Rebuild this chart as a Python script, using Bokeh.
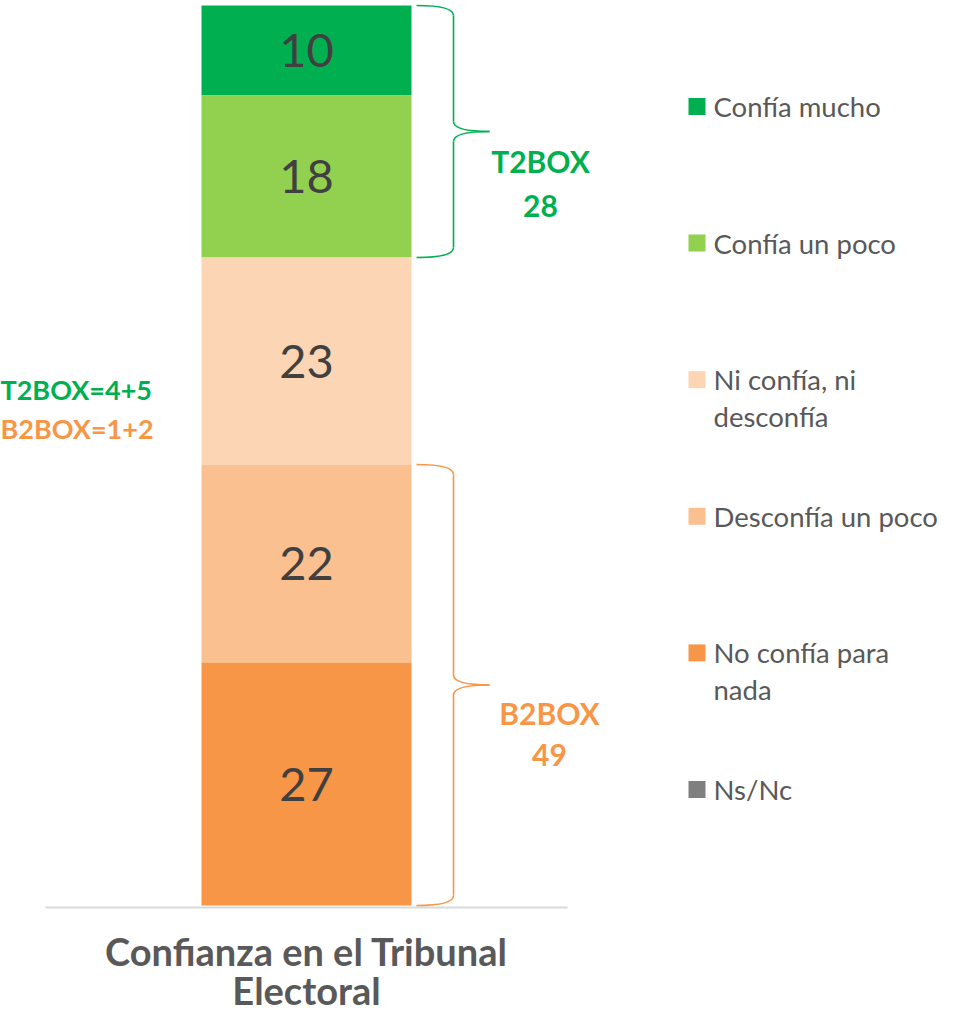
from bokeh.plotting import figure
from bokeh.models import Range1d, ColumnDataSource
from bokeh.embed import file_html
from bokeh.resources import INLINE
from bokeh.core.properties import value

# ---------------- data ----------------
categories = ["Confía mucho", "Confía un poco", "Ni confía, ni\ndesconfía",
              "Desconfía un poco", "No confía para\nnada", "Ns/Nc"]
values = [10, 18, 23, 22, 27, 0]
colors = ["#00B050", "#92D050", "#FCD5B5", "#FAC090", "#F79646", "#7F7F7F"]
bar_title = ["Confianza en el Tribunal", "Electoral"]
group_names = ["T2BOX", "B2BOX"]
group_members = [[0, 1], [3, 4]]
group_colors = ["#00B050", "#F79646"]
note_lines = ["T2BOX=4+5", "B2BOX=1+2"]

# ---------------- layout ----------------
FONT = "Lato"
W, H = 937, 1017
PX = 9.0           # pixels per percentage point
BASE = 905         # pixel row of the bar's base


def Y(py):
    return (BASE - py) / PX


p = figure(width=W, height=H, x_range=Range1d(0, W),
           y_range=Range1d(Y(H), Y(0)), min_border=0,
           toolbar_location=None, output_backend="svg")
p.axis.visible = False
p.grid.visible = False
p.outline_line_color = None
p.background_fill_color = "white"

# stacked bar (bottom-up is reverse of the legend order)
bottoms, tops = [0] * len(values), [0] * len(values)
acc = 0
for i in reversed(range(len(values))):
    bottoms[i] = acc
    acc += values[i]
    tops[i] = acc

src = ColumnDataSource(dict(x=[306] * len(values), bottom=bottoms, top=tops,
                            color=colors, mid=[(b + t) / 2 for b, t in zip(bottoms, tops)]))
p.vbar(x="x", width=210, bottom="bottom", top="top", fill_color="color",
       line_color=None, source=src)

lab_idx = [i for i, v in enumerate(values) if v > 0]
p.text(x=[306] * len(lab_idx), y=[src.data["mid"][i] for i in lab_idx],
       text=[str(values[i]) for i in lab_idx], text_align="center",
       text_baseline="middle", text_font=value(FONT), text_font_size="47px",
       text_color="#404040")

# base line
p.segment(x0=[45], y0=[-2 / PX], x1=[567], y1=[-2 / PX], line_color="#D9D9D9",
          line_width=2)

# category title
p.text(x=[306, 306], y=[Y(950), Y(989)], text=bar_title, text_align="center",
       text_baseline="middle", text_font=value(FONT), text_font_style="bold",
       text_font_size="38px", text_color="#595959")

# legend
for i, (cat, col) in enumerate(zip(categories, colors)):
    py = 106 + i * 136.6
    p.scatter(x=[696.5], y=[Y(py)], marker="square", size=17, fill_color=col,
              line_color=None)
    for k, line in enumerate(cat.split("\n")):
        p.text(x=[713], y=[Y(py + k * 37)], text=[line], text_align="left",
               text_baseline="middle", text_font=value(FONT),
               text_font_size="27.5px", text_color="#595959")

# braces
XA, XV, XT, R = 416, 453, 489, 10 / PX
label_dx = [51, 60]
label_dy = [(29, 74), (28, 70)]
for g, (name, members, col) in enumerate(zip(group_names, group_members, group_colors)):
    ytop = max(tops[i] for i in members)
    ybot = min(bottoms[i] for i in members)
    ymid = (ytop + ybot) / 2
    total = sum(values[i] for i in members)
    p.quadratic(x0=[XA, XV, XT, XV], y0=[ytop, ymid + R, ymid, ybot + R],
                x1=[XV, XT, XV, XA], y1=[ytop - R, ymid, ymid - R, ybot],
                cx=[XV, XV, XV, XV], cy=[ytop, ymid, ymid, ybot],
                line_color=col, line_width=1.6)
    p.segment(x0=[XV, XV], y0=[ytop - R, ymid - R], x1=[XV, XV], y1=[ymid + R, ybot + R],
              line_color=col, line_width=1.6)
    mid_py = BASE - ymid * PX
    p.text(x=[XT + label_dx[g]] * 2,
           y=[Y(mid_py + label_dy[g][0]), Y(mid_py + label_dy[g][1])],
           text=[name, str(total)], text_align="center", text_baseline="middle",
           text_font=value(FONT), text_font_style="bold", text_font_size="30px",
           text_color=col)

# note on the left
p.text(x=[0, 0], y=[Y(389), Y(428)], text=note_lines, text_align="left",
       text_baseline="middle", text_font=value(FONT), text_font_style="bold",
       text_font_size="27px", text_color=group_colors)

open("out.html", "w").write(file_html(p, INLINE))
